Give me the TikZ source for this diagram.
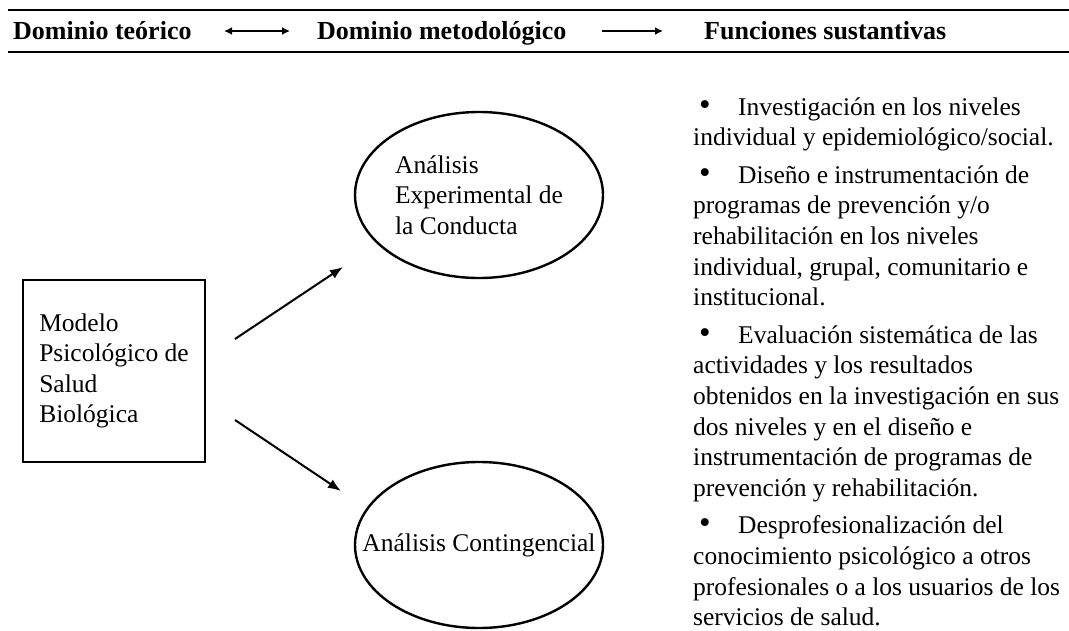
\documentclass[tikz,border=0pt]{standalone}
\usepackage{fontspec}
\setmainfont{Liberation Serif}
\usetikzlibrary{shapes.geometric,arrows.meta}
\newcommand{\bul}{\makebox[45pt][l]{\hspace{6pt}{\fontsize{33}{30}\selectfont•}}}
\tikzset{
  bodyfont/.style={font=\fontsize{25.5}{30.4}\selectfont},
  headtxt/.style={anchor=base west, inner sep=0pt, font=\fontsize{26}{30.4}\selectfont\bfseries},
  rulel/.style={line width=2.6pt},
  headarrow/.style={line width=1.8pt, -{Latex[length=8pt,width=8pt]}},
  headarrowboth/.style={line width=1.8pt, {Latex[length=8pt,width=8pt]}-{Latex[length=8pt,width=8pt]}},
  modelbox/.style={draw, line width=2.4pt, minimum width=182pt, minimum height=182pt, inner sep=0pt, align=left, bodyfont},
  ovalnode/.style={ellipse, draw, line width=2.4pt, minimum width=248pt, minimum height=166pt, inner sep=0pt, align=left, bodyfont},
  linkarrow/.style={line width=2pt, -{Latex[length=13pt,width=10pt]}}
}
\begin{document}
\begin{tikzpicture}[x=1pt,y=-1pt]
\useasboundingbox (0,0) rectangle (1069,630);
% header rules
\draw[rulel] (8,10) -- (1069,10);
\draw[rulel] (8,52) -- (1069,52);
% header texts
\node[headtxt] (h1) at (13,39) {Dominio teórico};
\node[headtxt] (h2) at (317,39) {Dominio metodológico};
\node[headtxt] (h3) at (704,39) {Funciones sustantivas};
\coordinate (ha1) at (224,31);
\coordinate (ha2) at (290,31);
\coordinate (hb1) at (602,31);
\coordinate (hb2) at (663,31);
\draw[headarrowboth] (ha1) -- (ha2);
\draw[headarrow] (hb1) -- (hb2);
% box
\node[modelbox] (modelo) at (114,371) {Modelo\\Psicológico de\\Salud\\Biológica};
% ellipses
\node[ovalnode] (aec) at (479,195) {Análisis\\Experimental de\\la Conducta};
\node[ovalnode, inner xsep=-32pt] (ac) at (479,545) {Análisis Contingencial};
% arrows
\coordinate (u1) at (235,339);
\coordinate (u2) at (343,267);
\coordinate (d1) at (235,420);
\coordinate (d2) at (341,491);
\draw[linkarrow] (u1) -- (u2);
\draw[linkarrow] (d1) -- (d2);
% functions column
\node[anchor=base west, inner sep=0pt] (fun) at (693,115) {\parbox[t]{376pt}{\fontsize{25.5}{30.6}\selectfont\raggedright\parindent=0pt
\bul Investigación en los niveles\\
individual y epidemiológico/social.\par\vspace{7pt}
\bul Diseño e instrumentación de\\
programas de prevención y/o\\
rehabilitación en los niveles\\
individual, grupal, comunitario e\\
institucional.\par\vspace{7pt}
\bul Evaluación sistemática de las\\
actividades y los resultados\\
obtenidos en la investigación en sus\\
dos niveles y en el diseño e\\
instrumentación de programas de\\
prevención y rehabilitación.\par\vspace{7pt}
\bul Desprofesionalización del\\
conocimiento psicológico a otros\\
profesionales o a los usuarios de los\\
servicios de salud.}};
\end{tikzpicture}
\end{document}
